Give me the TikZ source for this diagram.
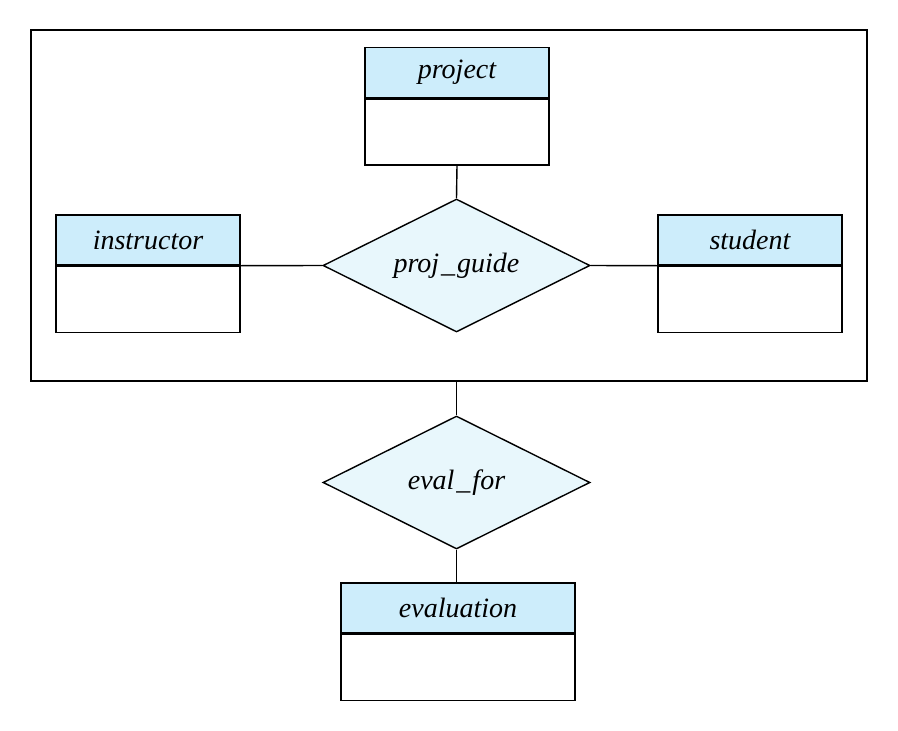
\documentclass[tikz,border=0pt]{standalone}
\usepackage{fontspec}
\setmainfont{Liberation Serif}
\usetikzlibrary{shapes.geometric}
\definecolor{hdr}{HTML}{CDEDFB}
\definecolor{rel}{HTML}{E8F7FC}
\newcommand{\us}{\kern2pt\_\kern2pt}
\tikzset{
  lbl/.style={font=\fontsize{28}{32}\selectfont\itshape},
  hdrbox/.style={draw, fill=hdr, minimum height=50, inner sep=0, lbl},
  bodybox/.style={draw, fill=white, minimum height=66, inner sep=0},
  relbox/.style={draw, diamond, fill=rel, minimum width=267, minimum height=133, inner sep=0},
  rellbl/.style={lbl, inner sep=0},
}
\begin{document}
\begin{tikzpicture}[x=1pt,y=-1pt,line width=1.4pt,line join=miter]
\useasboundingbox (0,0) rectangle (898,731);
% outer aggregation box
\node[draw, minimum width=836, minimum height=351, inner sep=0] (agg) at (449,205.5) {};
% project
\node[hdrbox, minimum width=184] (projH) at (457,72.5) {project};
\node[bodybox, minimum width=184, anchor=north] (projB) at (projH.south) {};
% instructor
\node[hdrbox, minimum width=184] (instH) at (148,240) {instructor};
\node[bodybox, minimum width=184, anchor=north] (instB) at (instH.south) {};
% student
\node[hdrbox, minimum width=184] (studH) at (750,240) {student};
\node[bodybox, minimum width=184, anchor=north] (studB) at (studH.south) {};
% proj_guide
\node[relbox] (pg) at (456.5,265.5) {};
\node[rellbl] (pgL) at (pg.center) {proj\us guide};
% eval_for
\node[relbox] (ef) at (456.5,482.5) {};
\node[rellbl] (efL) at (ef.center) {eval\us for};
% evaluation
\node[hdrbox, minimum width=234] (evH) at (458,608) {evaluation};
\node[bodybox, minimum width=234, anchor=north] (evB) at (evH.south) {};
% connectors
\draw (projB.south) -- (pg.north);
\draw (instH.south east) -- (pg.west);
\draw (pg.east) -- (studH.south west);
\draw (agg.south -| ef.north) -- (ef.north);
\draw (ef.south) -- (ef.south |- evH.north);
\end{tikzpicture}
\end{document}
